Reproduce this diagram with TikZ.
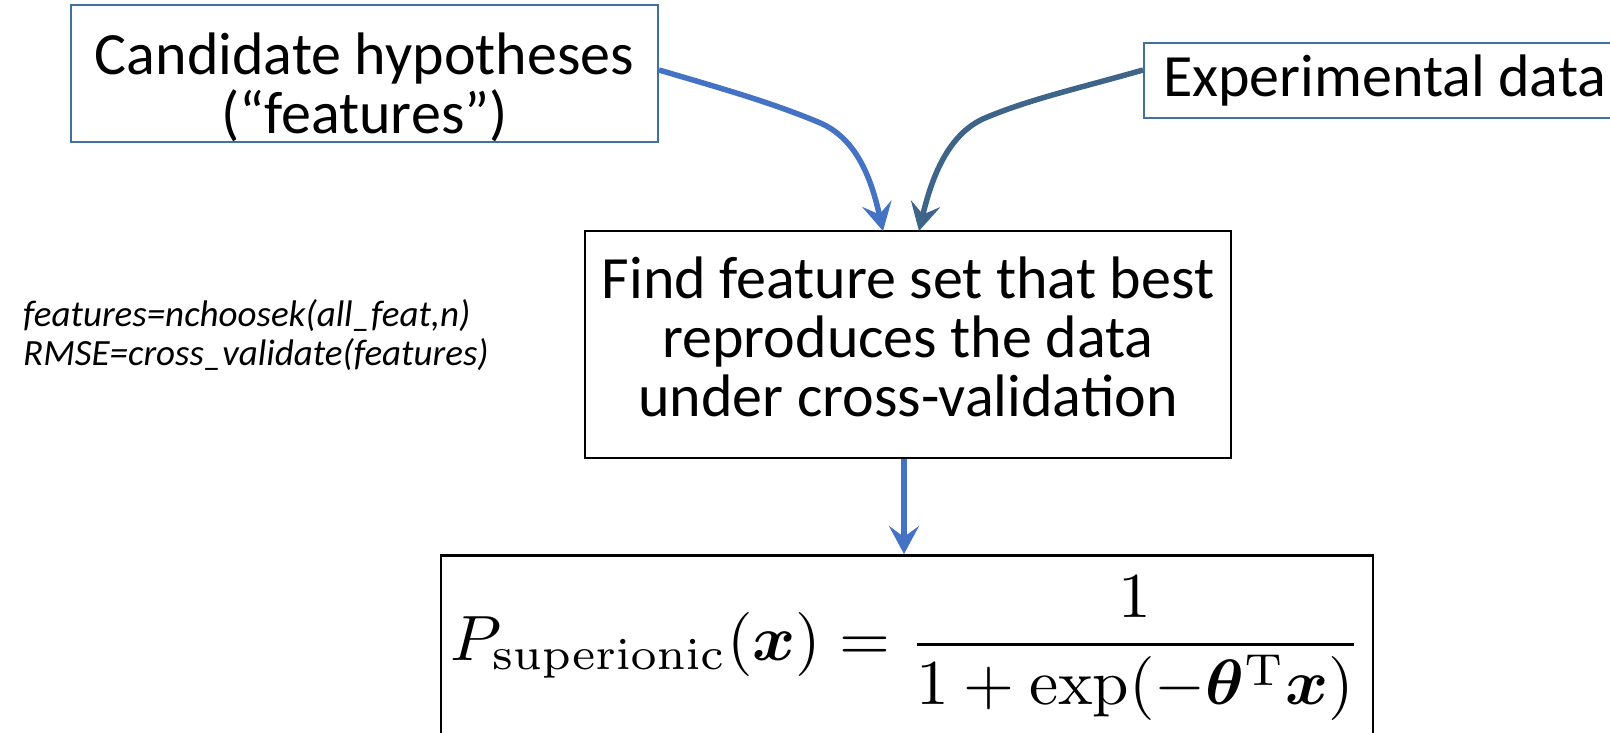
\documentclass[tikz,border=0pt]{standalone}
\usepackage{amsmath}
\usepackage{bm}
\usepackage{graphicx}
\usepackage[no-math]{fontspec}
\setmainfont{Carlito}
\usetikzlibrary{arrows.meta}
\definecolor{boxblue}{RGB}{65,113,156}
\definecolor{arrblue}{RGB}{68,114,196}
\definecolor{arrdark}{RGB}{62,100,138}
\tikzset{
  bluebox/.style={draw=boxblue, line width=2pt, fill=white, inner sep=0pt, align=center},
  blackbox/.style={draw=black, line width=2.5pt, fill=white, inner sep=0pt, align=center},
  bigtext/.style={font=\fontsize{60}{59}\selectfont},
  sidetext/.style={font=\fontsize{37}{40}\selectfont\itshape, anchor=west, inner sep=0pt},
  tip/.style={-{Stealth[length=28pt, width=30pt, inset=11pt]}},
  conn/.style={line width=5.5pt, tip},
}
\begin{document}
\begin{tikzpicture}[x=1pt,y=-1pt]
\clip (0,0) rectangle (1610,732);
\fill[white] (0,0) rectangle (1610,732);
% boxes
\node[bluebox, bigtext, minimum width=587pt, minimum height=131pt] (cand) at (364.5,73.5)
  {\rule{0pt}{69pt}Candidate hypotheses\\(“features”)};
\node[bluebox, bigtext, minimum height=75pt, anchor=west, inner xsep=19pt] (exp) at (1143,80.5)
  {Experimental data\hspace*{30pt}};
\node[blackbox, bigtext, minimum width=646pt, minimum height=227pt] (find) at (908,344.5)
  {Find feature set that best\\reproduces the data\\under cross-validation\rule[-16pt]{0pt}{1pt}};
\node[blackbox, minimum width=932pt, minimum height=200pt, anchor=north] (form) at (907,554)
  {};
\node[font=\fontsize{10}{12}\selectfont, inner sep=0pt] (eq) at (906,648)
  {\scalebox{6.55}[6.4]{$\displaystyle P_{\mathrm{superionic}}(\bm{x}) = \frac{1}{1+\exp(-\bm{\theta}^{\mathrm{T}}\bm{x})}$}};
% side text
\node[sidetext] (t1) at (23,316) {features=nchoosek(all\_feat,n)};
\node[sidetext] (t2) at (23,355) {RMSE=cross\_validate(features)};
% connectors
\coordinate (a1) at (883,231);
\coordinate (a2) at (919,231);
\coordinate (k1) at (818,122);
\coordinate (k2) at (985,118);
\draw[conn, draw=arrblue] (cand.east |- 0,70) .. controls (720,88) and (770,102) .. (k1)
  .. controls (858,138) and (872,182) .. (a1);
\draw[conn, draw=arrdark] (exp.west |- 0,70) .. controls (1080,88) and (1030,99) .. (k2)
  .. controls (945,135) and (930,185) .. (a2);
\draw[conn, draw=arrblue] (find.south -| 904,0) -- (form.north -| 904,0);
\end{tikzpicture}
\end{document}
